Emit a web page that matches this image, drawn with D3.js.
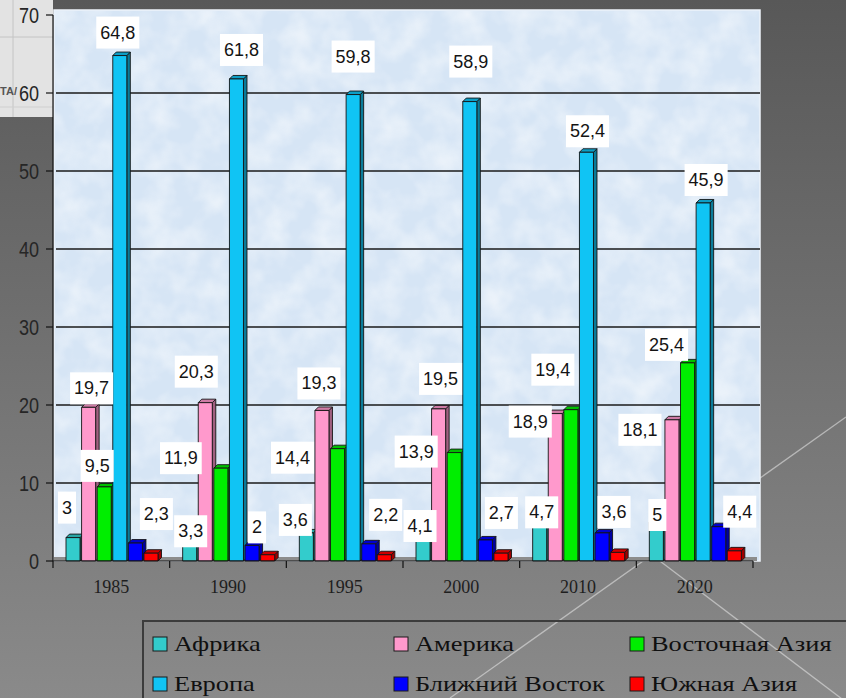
<!DOCTYPE html>
<html>
<head>
<meta charset="utf-8">
<script src="https://cdn.jsdelivr.net/npm/d3@7"></script>
<style>
  body { margin: 0; padding: 0; background: #6a6a6a; }
  svg { display: block; }
</style>
</head>
<body>
<div class="canvas"></div>
<script>
"use strict";

// data
const years = ["1985", "1990", "1995", "2000", "2010", "2020"];
const seriesNames = ["Африка", "Америка", "Восточная Азия", "Европа", "Ближний Восток", "Южная Азия"];
const africa = [3, 3.3, 3.6, 4.1, 4.7, 5];
const america = [19.7, 20.3, 19.3, 19.5, 18.9, 18.1];
const eastAsia = [9.5, 11.9, 14.4, 13.9, 19.4, 25.4];
const europe = [64.8, 61.8, 59.8, 58.9, 52.4, 45.9];
const middleEast = [2.3, 2, 2.2, 2.7, 3.6, 4.4];
const southAsia = [1.0, 0.8, 0.8, 1.0, 1.1, 1.3]; // no labels in the picture, estimated
const yTicks = [0, 10, 20, 30, 40, 50, 60, 70];
const gridTicks = [10, 20, 30, 40, 50, 60];

const seriesValues = [africa, america, eastAsia, europe, middleEast, southAsia];
const colors = ["#33cccc", "#ff99cc", "#00ee00", "#10c4f4", "#0000ff", "#ff0000"];
const hasLabels = [true, true, true, true, true, false];

// labels were dragged by hand in the original, so keep their nudges [dx, dy up]
const labelNudge = [
  [[-6, 30], [1, 4], [-11, 13], [-3, 3], [2, 12], [1, 7]],
  [[3, 19], [-9, 31], [-3, 27], [2, 30], [-25, -8], [-32, -10]],
  [[-7, 21], [-40, 10], [-45, -9], [-38, 1], [-18, 40], [-21, 18]],
  [[-2, 23], [5, 29], [0, 38], [1, 40], [1, 21], [3, 23]],
  [[21, 29], [5, 18], [17, 29], [16, 27], [12, 21], [21, 15]],
  null
];

const W = 846, H = 698;
const svg = d3.select(".canvas").append("svg").attr("width", W).attr("height", H);
const defs = svg.append("defs");

const bgGrad = defs.append("linearGradient").attr("id", "bg")
  .attr("x1", 0).attr("y1", 0).attr("x2", 0).attr("y2", 1);
bgGrad.append("stop").attr("offset", "0%").attr("stop-color", "#585858");
bgGrad.append("stop").attr("offset", "100%").attr("stop-color", "#8a8a8a");

const tex = defs.append("filter").attr("id", "tex")
  .attr("x", 0).attr("y", 0).attr("width", 1).attr("height", 1);
tex.append("feTurbulence").attr("type", "fractalNoise")
  .attr("baseFrequency", "0.035").attr("numOctaves", 3).attr("seed", 7);
tex.append("feColorMatrix").attr("type", "matrix")
  .attr("values", "0 0 0 0 1  0 0 0 0 1  0 0 0 0 1  1.6 0 0 0 -0.55");

svg.append("rect").attr("width", W).attr("height", H).attr("fill", "url(#bg)");

// decorative slide lines
const deco = svg.append("g").attr("stroke", "rgba(235,235,235,0.55)").attr("stroke-width", 1.3);
deco.append("line").attr("x1", 450).attr("y1", 698).attr("x2", 846).attr("y2", 417);
deco.append("line").attr("x1", 648).attr("y1", 552).attr("x2", 846).attr("y2", 702);

// leftover table piece at top left
const corner = svg.append("g");
corner.append("rect").attr("x", 0).attr("y", 0).attr("width", 53).attr("height", 117).attr("fill", "#e3e3e3");
corner.append("line").attr("x1", 13).attr("y1", 0).attr("x2", 13).attr("y2", 117).attr("stroke", "#c4c4c4");
corner.append("line").attr("x1", 0).attr("y1", 37).attr("x2", 53).attr("y2", 37).attr("stroke", "#c4c4c4");
corner.append("line").attr("x1", 0).attr("y1", 107).attr("x2", 53).attr("y2", 107).attr("stroke", "#cfcfcf");
corner.append("text").attr("x", 0).attr("y", 95).text("ТА/")
  .style("font-family", "Liberation Sans").style("font-size", "11px")
  .style("font-weight", "bold").attr("fill", "#555");

// plot area
const plot = { left: 54, top: 10, right: 760, bottom: 561 };
svg.append("rect").attr("x", plot.left).attr("y", plot.top)
  .attr("width", plot.right - plot.left).attr("height", plot.bottom - plot.top)
  .attr("fill", "#d6e5f5").attr("stroke", "#eef3fa").attr("stroke-width", 1.5);
svg.append("rect").attr("x", plot.left + 1).attr("y", plot.top + 1)
  .attr("width", plot.right - plot.left - 2).attr("height", plot.bottom - plot.top - 2)
  .attr("filter", "url(#tex)").attr("opacity", 0.6);

const x = d3.scaleBand().domain(years).range([53, 753]);
const xs = d3.scaleBand().domain(seriesNames).range([13, 105]).paddingInner(0.1);
const y = d3.scaleLinear().domain([0, 70]).range([561, 15]);

// gridlines
svg.append("g").selectAll("line").data(gridTicks).join("line")
  .attr("x1", plot.left + 2).attr("x2", plot.right)
  .attr("y1", d => y(d)).attr("y2", d => y(d))
  .attr("stroke", "#1a1a1a").attr("stroke-width", 1.3);

// floor
svg.append("rect").attr("x", plot.left).attr("y", y(0) - 4)
  .attr("width", 703).attr("height", 4).attr("fill", "#8c8c8c");

// bars
const depth = 3.5;
const bw = xs.bandwidth();
const barsG = svg.append("g");
years.forEach((yr, i) => {
  seriesNames.forEach((name, s) => {
    const v = seriesValues[s][i];
    const x0 = x(yr) + xs(name);
    const yt = y(v);
    const y0 = y(0);
    const base = d3.color(colors[s]);
    const g = barsG.append("g").attr("stroke", "#141414").attr("stroke-width", 0.9)
      .attr("stroke-linejoin", "round");
    g.append("polygon")
      .attr("points", [[x0 + bw, yt], [x0 + bw + depth, yt - depth], [x0 + bw + depth, y0 - depth], [x0 + bw, y0]].join(" "))
      .attr("fill", base.darker(1.3));
    g.append("polygon")
      .attr("points", [[x0, yt], [x0 + depth, yt - depth], [x0 + bw + depth, yt - depth], [x0 + bw, yt]].join(" "))
      .attr("fill", base.darker(0.6));
    g.append("rect").attr("x", x0).attr("y", yt).attr("width", bw).attr("height", y0 - yt)
      .attr("fill", base);
  });
});

// axes
const axG = svg.append("g").attr("stroke", "#111").attr("stroke-width", 1.2);
axG.append("line").attr("x1", 53).attr("x2", 53).attr("y1", y(70)).attr("y2", y(0));
axG.append("line").attr("x1", 53).attr("x2", 753).attr("y1", y(0)).attr("y2", y(0));
axG.selectAll(".yt").data(yTicks).join("line").attr("class", "yt")
  .attr("x1", 46).attr("x2", 53).attr("y1", d => y(d)).attr("y2", d => y(d));
const xEdges = years.map(d => x(d)).concat([x(years[years.length - 1]) + x.bandwidth()]);
axG.selectAll(".xt").data(xEdges).join("line").attr("class", "xt")
  .attr("x1", d => d).attr("x2", d => d).attr("y1", y(0)).attr("y2", y(0) + 7);

const yLab = svg.append("g").selectAll("text").data(yTicks).join("text")
  .attr("x", 39).attr("y", d => y(d)).attr("text-anchor", "end")
  .attr("dominant-baseline", "central")
  .style("font-family", "Liberation Sans").style("font-size", "22px")
  .attr("fill", "#262626").text(d => d);
yLab.each(function () {
  const len = this.getComputedTextLength();
  d3.select(this).attr("textLength", len * 0.82).attr("lengthAdjust", "spacingAndGlyphs");
});

svg.append("g").selectAll("text").data(years).join("text")
  .attr("x", d => x(d) + x.bandwidth() / 2).attr("y", 593)
  .attr("text-anchor", "middle")
  .style("font-family", "Liberation Serif").style("font-size", "18px")
  .attr("fill", "#1e1e1e").text(d => d);

// data labels
const fmt = v => String(v).replace(".", ",");
const labG = svg.append("g");
seriesNames.forEach((name, s) => {
  if (!hasLabels[s]) return;
  years.forEach((yr, i) => {
    const v = seriesValues[s][i];
    const [dx, dy] = labelNudge[s][i];
    const cx = x(yr) + xs(name) + bw / 2 + dx;
    const cy = y(v) - dy;
    const g = labG.append("g");
    const r = g.append("rect").attr("fill", "#ffffff");
    const t = g.append("text").attr("x", cx).attr("y", cy)
      .attr("text-anchor", "middle").attr("dominant-baseline", "central")
      .style("font-family", "Liberation Sans").style("font-size", "18px")
      .attr("fill", "#141414").text(fmt(v));
    const tw = t.node().getComputedTextLength();
    r.attr("x", cx - tw / 2 - 4).attr("y", cy - 16).attr("width", tw + 8).attr("height", 32);
  });
});

// legend
const legendRows = [[0, 1, 2], [3, 4, 5]];
const legendCols = [153, 394, 630];
const legendRowY = [644, 684];
const leg = svg.append("g");
leg.append("rect").attr("x", 143).attr("y", 621).attr("width", 720).attr("height", 100)
  .attr("fill", "none").attr("stroke", "#3c3c3c").attr("stroke-width", 2);
legendRows.forEach((row, r) => {
  row.forEach((s, c) => {
    const lx = legendCols[c], ly = legendRowY[r];
    leg.append("rect").attr("x", lx).attr("y", ly - 7).attr("width", 14).attr("height", 14)
      .attr("fill", colors[s]).attr("stroke", "#1a1a1a").attr("stroke-width", 1);
    const t = leg.append("text").attr("x", lx + 21).attr("y", ly + 7)
      .style("font-family", "Liberation Serif").style("font-size", "22px")
      .attr("fill", "#101010").text(seriesNames[s]);
    const len = t.node().getComputedTextLength();
    t.attr("textLength", len * 1.2).attr("lengthAdjust", "spacingAndGlyphs");
  });
});
</script>
</body>
</html>
